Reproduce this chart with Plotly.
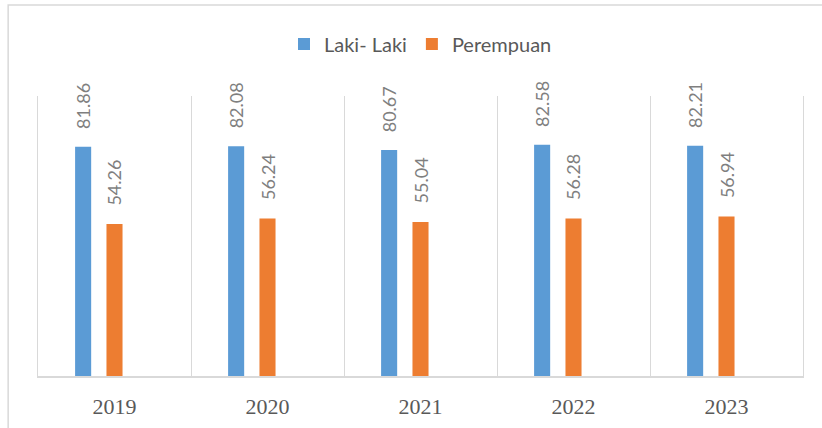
import plotly.graph_objects as go

years = ["2019", "2020", "2021", "2022", "2023"]
laki = [81.86, 82.08, 80.67, 82.58, 82.21]
perempuan = [54.26, 56.24, 55.04, 56.28, 56.94]

series = [
    ("Laki- Laki", laki, "#5B9BD5", -0.205),
    ("Perempuan", perempuan, "#ED7D31", 0.0),
]
bar_w = 0.105

fig = go.Figure()
annotations = []
for name, vals, color, center in series:
    fig.add_trace(go.Bar(
        x=years, y=vals, name=name, marker_color=color,
        width=bar_w, offset=center - bar_w / 2,
        marker_line_width=0,
    ))
    for i, v in enumerate(vals):
        annotations.append(dict(
            x=i + center, y=v, xref="x", yref="y",
            text=f"{v:.2f}", showarrow=False, textangle=-90,
            yanchor="bottom", xanchor="center", yshift=16,
            font=dict(family="Lato", size=18, color="#7F7F7F"),
        ))

fig.update_layout(
    width=822, height=428,
    margin=dict(l=38, r=19, t=96, b=52, autoexpand=False),
    paper_bgcolor="white", plot_bgcolor="white",
    barmode="overlay",
    showlegend=True,
    legend=dict(
        orientation="h", x=0.5, y=1.186, xanchor="center", yanchor="middle",
        font=dict(family="Lato", size=20, color="#595959"),
        itemwidth=30, traceorder="normal",
    ),
    annotations=annotations,
    shapes=[dict(
        type="rect", xref="paper", yref="paper",
        x0=-0.039, x1=1.2, y0=-1, y1=1.325,
        line=dict(color="#D9D9D9", width=1.5), fillcolor="rgba(0,0,0,0)",
        layer="below",
    )],
)
fig.update_xaxes(
    type="category", tickson="boundaries", showgrid=True,
    gridcolor="#D9D9D9", gridwidth=1.3,
    showline=True, linecolor="#D9D9D9", linewidth=2,
    ticks="", ticklabelstandoff=10, automargin=False,
    tickfont=dict(family="Liberation Serif", size=22, color="#595959"),
    range=[-0.5, 4.5],
)
fig.update_yaxes(
    range=[0, 100], showticklabels=False, showgrid=False, zeroline=False,
    showline=True, mirror=True, linecolor="#D9D9D9", linewidth=1.3, ticks="",
    automargin=False,
)

fig.write_html(
    "out.html",
    config={"displayModeBar": False},
    post_script="document.body.style.margin='0';",
)
